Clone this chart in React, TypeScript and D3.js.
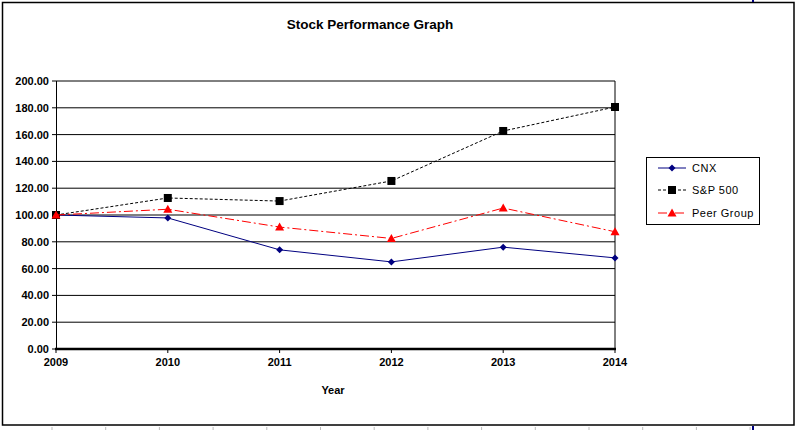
import React from "react";
import * as d3 from "d3";

const years = [2009, 2010, 2011, 2012, 2013, 2014];
const cnx = [100, 97.8, 74, 65, 76, 68];
const sp500 = [100, 112.7, 110.4, 125.4, 162.7, 180.6];
const peer = [100, 104.3, 91, 82.5, 105.2, 87.5];
const yTicks = [0, 20, 40, 60, 80, 100, 120, 140, 160, 180, 200];
const seriesNames = ["CNX", "S&P 500", "Peer Group"];

const W = 796, H = 430;
const FONT = "'Liberation Sans', Arial, sans-serif";

function Marker({ kind, x, y }: { kind: number; x: number; y: number }) {
  if (kind === 0) {
    const r = 3.5;
    return <path d={`M${x},${y - r}L${x + r},${y}L${x},${y + r}L${x - r},${y}Z`} fill="#000080" />;
  }
  if (kind === 1) {
    return <rect x={x - 4} y={y - 4} width={8} height={8} fill="#000" />;
  }
  return <path d={`M${x},${y - 4.5}L${x + 4.5},${y + 3.5}L${x - 4.5},${y + 3.5}Z`} fill="#ff0000" />;
}

export default function App() {
  const x = d3.scaleLinear().domain([2009, 2014]).range([56, 615]);
  const y = d3.scaleLinear().domain([0, 200]).range([349, 81]);
  const line = d3.line<number>().x((_, i) => x(years[i])).y((v) => y(v));
  const series = [cnx, sp500, peer];
  const strokes = ["#000080", "#000", "#ff0000"];
  const dashes = ["none", "3,2", "9,3,2,3"];
  const legendY = [168, 190, 213];
  const bottomTicks = d3.range(52, 796, 53.7);

  return (
    <svg width={W} height={H} style={{ position: "absolute", left: 0, top: 0 }} fontFamily={FONT}>
      <rect x={0} y={0} width={W} height={H} fill="#fff" />
      <rect x={2.5} y={2.5} width={791.5} height={422.5} fill="none" stroke="#000" strokeWidth={1.5} />
      {bottomTicks.map((t, i) => (
        <line key={i} x1={t} x2={t} y1={427} y2={430} stroke="#bbb" strokeWidth={1} />
      ))}
      <line x1={753} x2={753} y1={0} y2={2} stroke="#000080" strokeWidth={2} />
      <line x1={753} x2={753} y1={426} y2={430} stroke="#000080" strokeWidth={2} />
      <text x={370} y={29} textAnchor="middle" fontWeight="bold" fontSize={13.5}>Stock Performance Graph</text>

      {yTicks.map((t) => (
        <g key={t}>
          {t > 0 && <line x1={56} x2={615} y1={y(t)} y2={y(t)} stroke="#000" strokeWidth={1} />}
          <line x1={52} x2={56} y1={y(t)} y2={y(t)} stroke="#000" strokeWidth={1} />
          <text x={49} y={y(t) + 4} textAnchor="end" fontWeight="bold" fontSize={11}>{t.toFixed(2)}</text>
        </g>
      ))}
      <line x1={56.5} x2={56.5} y1={81} y2={349} stroke="#000" strokeWidth={1} />
      <line x1={615} x2={615} y1={81} y2={349} stroke="#000" strokeWidth={1} />
      <line x1={55} x2={616} y1={349} y2={349} stroke="#000" strokeWidth={2.5} />
      {years.map((yr) => (
        <g key={yr}>
          <line x1={x(yr)} x2={x(yr)} y1={349} y2={353} stroke="#000" strokeWidth={1} />
          <text x={x(yr)} y={366} textAnchor="middle" fontWeight="bold" fontSize={11}>{yr}</text>
        </g>
      ))}
      <text x={333} y={394} textAnchor="middle" fontWeight="bold" fontSize={11}>Year</text>

      {series.map((s, k) => (
        <g key={k}>
          <path d={line(s) || ""} fill="none" stroke={strokes[k]} strokeWidth={1} strokeDasharray={dashes[k]} />
          {s.map((v, i) => <Marker key={i} kind={k} x={x(years[i])} y={y(v)} />)}
        </g>
      ))}

      <rect x={646.5} y={157.5} width={113} height={67} fill="#fff" stroke="#000" strokeWidth={1} />
      {seriesNames.map((n, k) => (
        <g key={n}>
          <line x1={658} x2={686} y1={legendY[k]} y2={legendY[k]} stroke={strokes[k]} strokeWidth={1} strokeDasharray={dashes[k]} />
          <Marker kind={k} x={672} y={legendY[k]} />
          <text x={692} y={legendY[k] + 4} fontSize={11} letterSpacing={0.5}>{n}</text>
        </g>
      ))}
    </svg>
  );
}
